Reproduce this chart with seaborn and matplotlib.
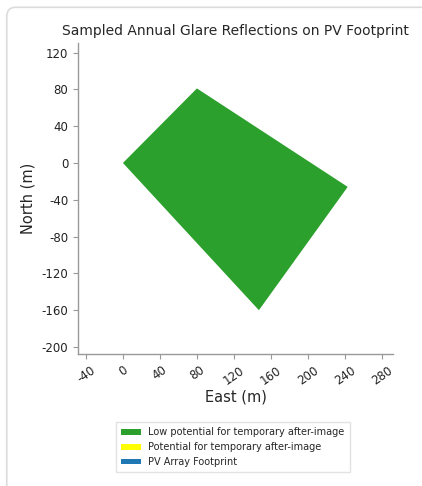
import matplotlib
matplotlib.use("Agg")
import matplotlib.pyplot as plt
from matplotlib.patches import Patch, FancyBboxPatch
import seaborn as sns

# PV array footprint corner coordinates (m)
east = [0, 80, 243, 147]
north = [0, 81, -26, -160]

x_ticks = [-40, 0, 40, 80, 120, 160, 200, 240, 280]
y_ticks = [-200, -160, -120, -80, -40, 0, 40, 80, 120]

legend_labels = [
    "Low potential for temporary after-image",
    "Potential for temporary after-image",
    "PV Array Footprint",
]
legend_colors = ["#2ca02c", "#ffff00", "#1f77b4"]

sns.set_style("ticks")
plt.rcParams["font.family"] = ["DejaVu Sans"]

fig = plt.figure(figsize=(4.22, 4.86), dpi=100)

# rounded card outline
card = FancyBboxPatch((0.016, -0.05), 1.2, 1.035,
                      boxstyle="round,pad=0,rounding_size=0.02",
                      transform=fig.transFigure, facecolor="none",
                      edgecolor="#dcdcdc", linewidth=1.2, zorder=-5)
fig.patches.append(card)

ax = fig.add_axes([0.1848, 0.2716, 0.7465, 0.64])
ax.set_facecolor("none")

ax.fill(east, north, color="#2ca02c", linewidth=0)

ax.set_xlim(-48.6, 292)
ax.set_ylim(-207.6, 130.4)
ax.set_xticks(x_ticks)
ax.set_yticks(y_ticks)
ax.set_xticklabels([str(v) for v in x_ticks], rotation=35, ha="center", fontsize=8.5)
ax.set_yticklabels([str(v) for v in y_ticks], fontsize=8.5)

sns.despine(ax=ax)
for s in ("left", "bottom"):
    ax.spines[s].set_color("#999999")
    ax.spines[s].set_linewidth(1.0)
ax.tick_params(colors="#999999", labelcolor="#222222", length=3.5)

ax.set_xlabel("East (m)", fontsize=10.5, labelpad=2)
ax.set_ylabel("North (m)", fontsize=10.5, labelpad=4)
ax.set_title("Sampled Annual Glare Reflections on PV Footprint", fontsize=10, pad=6)

handles = [Patch(facecolor=c, edgecolor="none") for c in legend_colors]
fig.legend(handles, legend_labels, loc="center", bbox_to_anchor=(0.552, 0.080),
           fontsize=7, frameon=True, fancybox=False, edgecolor="#dddddd",
           handlelength=2.0, handleheight=0.55, handletextpad=0.8,
           labelspacing=0.5, borderpad=0.55)

fig.savefig("out.png", dpi=100)
